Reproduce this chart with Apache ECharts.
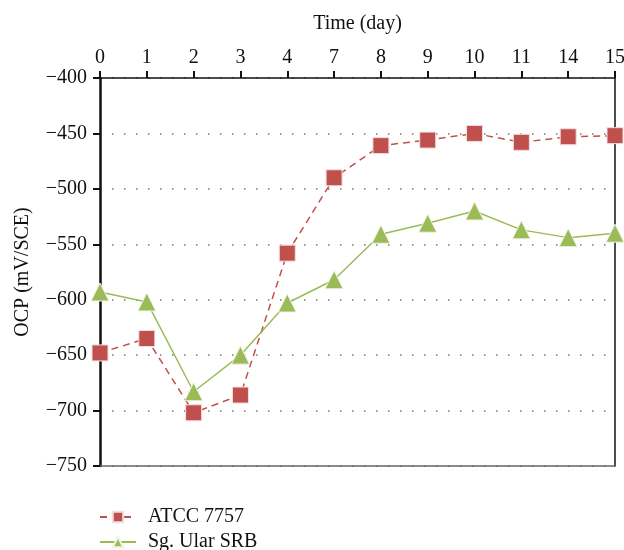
<!DOCTYPE html>
<html><head><meta charset="utf-8">
<script src="https://cdn.jsdelivr.net/npm/echarts@6/dist/echarts.min.js"></script>
<style>html,body{margin:0;padding:0;background:#fff}#c{width:624px;height:550px}</style>
</head><body><div id="c"></div>
<script>
const days = ['0','1','2','3','4','7','8','9','10','11','14','15'];
const atcc = [-648,-635,-702,-686,-558,-490,-461,-456,-450,-458,-453,-452];
const srb = [-593,-602,-683,-650,-603,-582,-541,-531,-520,-537,-544,-540];
const yTicks = {min:-750, max:-400, interval:50};
const FONT = 'Liberation Serif';
const chart = echarts.init(document.getElementById('c'));
const legendBase = {
  orient:'horizontal', left:99, itemWidth:36, itemHeight:13, padding:0,
  textStyle:{fontFamily:FONT,fontSize:20,color:'#111',padding:[0,0,0,7]}
};
chart.setOption({
  animation:false,
  textStyle:{fontFamily:FONT},
  grid:{left:100,right:9,top:78,bottom:84,outerBoundsMode:'none',containLabel:false},
  legend:[
    Object.assign({}, legendBase, {top:507, data:['ATCC 7757']}),
    Object.assign({}, legendBase, {top:532, data:['Sg. Ular SRB']})
  ],
  xAxis:[{
    type:'category', data:days, position:'top', boundaryGap:false,
    name:'Time (day)', nameLocation:'middle', nameGap:44,
    nameTextStyle:{fontFamily:FONT,fontSize:20,color:'#111'},
    axisLine:{lineStyle:{color:'#111',width:1.5}},
    axisTick:{alignWithLabel:true,length:7,lineStyle:{color:'#111',width:2}},
    axisLabel:{fontFamily:FONT,fontSize:20,color:'#111',margin:10,interval:0},
    splitLine:{show:false}
  },{
    type:'category', data:days, position:'bottom', boundaryGap:false,
    axisLine:{lineStyle:{color:'#666',width:1.5}},
    axisTick:{show:false}, axisLabel:{show:false}, splitLine:{show:false}
  }],
  yAxis:[{
    type:'value', min:yTicks.min, max:yTicks.max, interval:yTicks.interval,
    name:'OCP (mV/SCE)', nameLocation:'middle', nameGap:67, nameRotate:90,
    nameTextStyle:{fontFamily:FONT,fontSize:20,color:'#111'},
    axisLine:{show:true,lineStyle:{color:'#111',width:2.5}},
    axisTick:{show:true,length:7,lineStyle:{color:'#111',width:2}},
    axisLabel:{fontFamily:FONT,fontSize:20,color:'#111',margin:13,
      formatter:v=>String(v).replace('-','\u2212')},
    splitLine:{show:true,lineStyle:{color:'#777',type:[1.5,10.5],width:1.5}}
  },{
    type:'value', min:yTicks.min, max:yTicks.max, interval:yTicks.interval, position:'right',
    axisLine:{show:true,lineStyle:{color:'#111',width:1.5}},
    axisTick:{show:false}, axisLabel:{show:false}, splitLine:{show:false}
  }],
  series:[{
    name:'ATCC 7757', type:'line', data:atcc,
    symbol:'rect', symbolSize:16,
    lineStyle:{color:'#C0504D',width:1.5,type:[7,5]},
    itemStyle:{color:'#C0504D',borderColor:'#f4dede',borderWidth:1}
  },{
    name:'Sg. Ular SRB', type:'line', data:srb,
    symbol:'triangle', symbolSize:18,
    lineStyle:{color:'#9BBB59',width:1.5},
    itemStyle:{color:'#9BBB59',borderColor:'#eef4e0',borderWidth:1}
  }]
});
</script></body></html>
